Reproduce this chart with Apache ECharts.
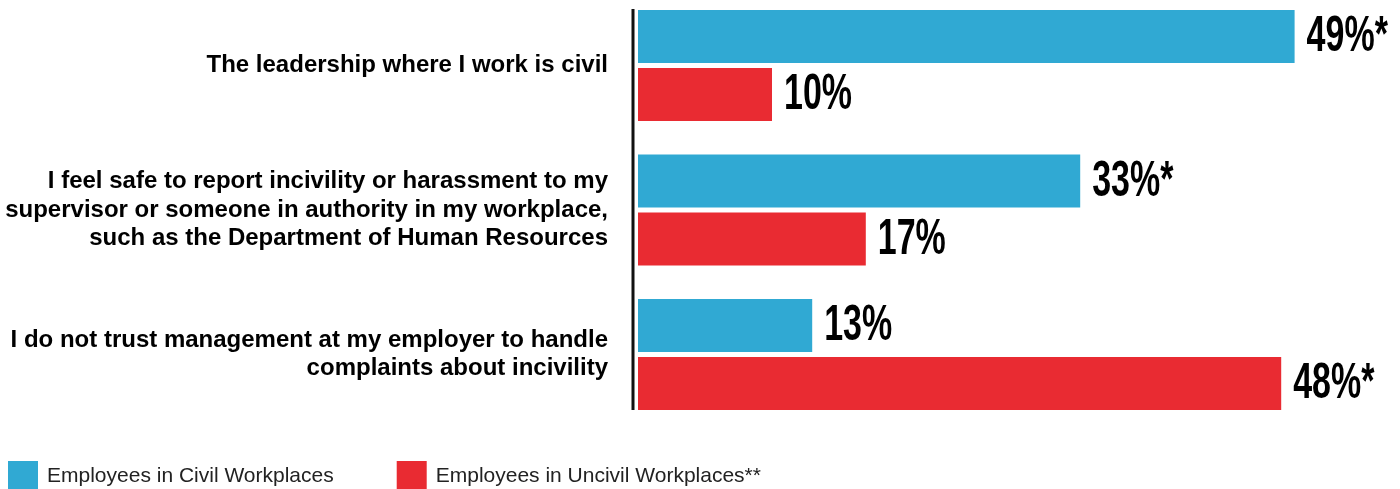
<!DOCTYPE html>
<html><head><meta charset="utf-8">
<script src="https://cdn.jsdelivr.net/npm/echarts@6/dist/echarts.min.js"></script>
<style>html,body{margin:0;padding:0;background:#fff}#c{width:1400px;height:489px}</style>
</head><body><div id="c"></div>
<script>
const categories = [
  "The leadership where I work is civil",
  "I feel safe to report incivility or harassment to my\nsupervisor or someone in authority in my workplace,\nsuch as the Department of Human Resources",
  "I do not trust management at my employer to handle\ncomplaints about incivility"
];
const civilValues = [49, 33, 13];
const uncivilValues = [10, 17, 48];
const civilLabels = ["49%*", "33%*", "13%"];
const uncivilLabels = ["10%", "17%", "48%*"];
const seriesNames = ["Employees in Civil Workplaces", "Employees in Uncivil Workplaces**"];

const BAR_W = 53, BAR_GAP = 5;
const chart = echarts.init(document.getElementById('c'));

function labelSeries(values, labels, sign) {
  return {
    type: 'custom', silent: true, clip: false, z: 5,
    data: values.map((v, i) => [v, i]),
    encode: { x: 0, y: 1 },
    renderItem: (params, api) => {
      const pt = api.coord([api.value(0), api.value(1)]);
      return {
        type: 'text', x: pt[0] + 12, y: pt[1] + sign * (BAR_W + BAR_GAP) / 2 + 1,
        scaleX: 0.68,
        style: {
          text: labels[params.dataIndex],
          font: 'bold 50px "Liberation Sans", Arial, sans-serif',
          fill: '#000', align: 'left', verticalAlign: 'middle'
        }
      };
    }
  };
}

chart.setOption({
  animation: false,
  grid: { left: 638, right: 25, top: 65.5, bottom: 134.5 },
  xAxis: { type: 'value', min: 0, max: 55, show: false },
  yAxis: {
    type: 'category', data: categories, inverse: true, boundaryGap: false,
    axisLine: { show: false }, axisTick: { show: false }, splitLine: { show: false },
    axisLabel: {
      margin: 30, align: 'right', color: '#000', fontWeight: 'bold',
      fontSize: 24, lineHeight: 28.5, fontFamily: '"Liberation Sans", Arial, sans-serif',
      padding: [4, 0, 0, 0]
    }
  },
  legend: {
    left: 8, top: 461, padding: 0, itemWidth: 30, itemHeight: 30, itemGap: 63,
    icon: 'rect',
    textStyle: { fontSize: 21, color: '#222', fontFamily: '"Liberation Sans", Arial, sans-serif', padding: [2,0,0,4] },
    data: seriesNames
  },
  graphic: [{
    type: 'line', shape: { x1: 633, y1: 9, x2: 633, y2: 410 },
    style: { stroke: '#111', lineWidth: 3 }
  }],
  series: [
    { name: seriesNames[0], type: 'bar', data: civilValues, barWidth: BAR_W, barGap: (BAR_GAP / BAR_W * 100) + '%',
      clip: false, itemStyle: { color: '#30A9D3' } },
    { name: seriesNames[1], type: 'bar', data: uncivilValues, barWidth: BAR_W, barGap: (BAR_GAP / BAR_W * 100) + '%',
      clip: false, itemStyle: { color: '#E92B32' } },
    labelSeries(civilValues, civilLabels, -1),
    labelSeries(uncivilValues, uncivilLabels, 1)
  ]
});
</script></body></html>
